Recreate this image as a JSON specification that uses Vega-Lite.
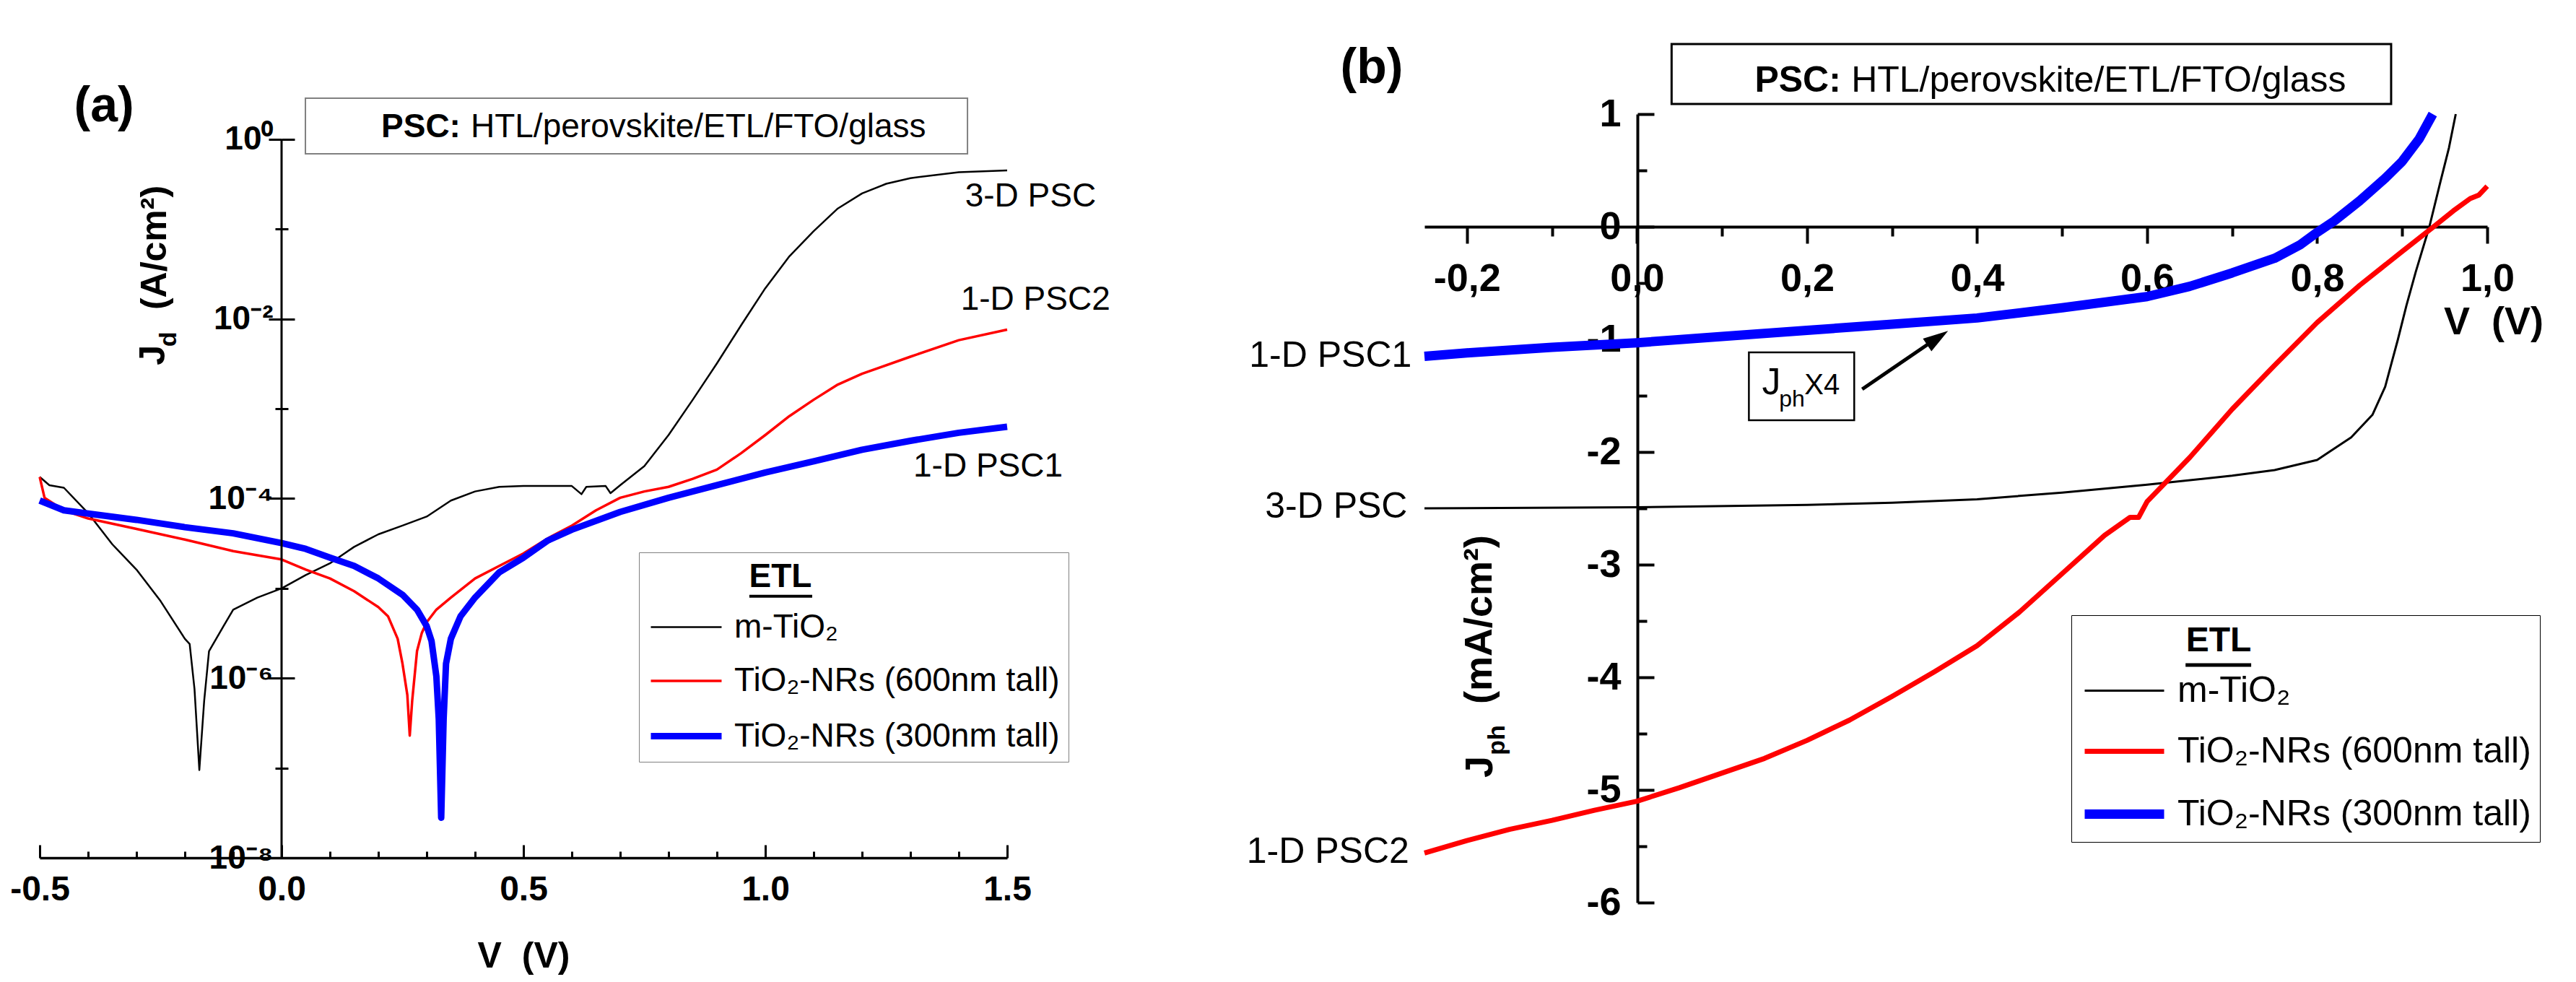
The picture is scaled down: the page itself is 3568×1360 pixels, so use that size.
{
  "$schema": "https://vega.github.io/schema/vega-lite/v6.json",
  "background": "white",
  "padding": {"left": 13, "top": 59, "right": 10, "bottom": 10},
  "bounds": "flush",
  "spacing": 578,
  "config": {
    "view": {"stroke": null},
    "font": "Liberation Sans",
    "text": {"font": "Liberation Sans", "color": "black"},
    "axis": {"labelFont": "Liberation Sans", "titleFont": "Liberation Sans", "labelColor": "black", "titleColor": "black", "grid": false},
    "legend": {"labelFont": "Liberation Sans", "titleFont": "Liberation Sans", "labelColor": "black", "titleColor": "black", "labelLimit": 2000, "titleLimit": 2000}
  },
  "datasets": {
    "jd": [
      {"V": -0.5, "J": 1.74e-4, "ETL": "m-TiO₂"},
      {"V": -0.48, "J": 1.41e-4, "ETL": "m-TiO₂"},
      {"V": -0.45, "J": 1.32e-4, "ETL": "m-TiO₂"},
      {"V": -0.4, "J": 6.9e-5, "ETL": "m-TiO₂"},
      {"V": -0.35, "J": 3.1e-5, "ETL": "m-TiO₂"},
      {"V": -0.3, "J": 1.62e-5, "ETL": "m-TiO₂"},
      {"V": -0.25, "J": 7.2e-6, "ETL": "m-TiO₂"},
      {"V": -0.2, "J": 2.75e-6, "ETL": "m-TiO₂"},
      {"V": -0.19, "J": 2.4e-6, "ETL": "m-TiO₂"},
      {"V": -0.18, "J": 7.6e-7, "ETL": "m-TiO₂"},
      {"V": -0.17, "J": 9.5e-8, "ETL": "m-TiO₂"},
      {"V": -0.16, "J": 5.6e-7, "ETL": "m-TiO₂"},
      {"V": -0.15, "J": 2.0e-6, "ETL": "m-TiO₂"},
      {"V": -0.12, "J": 3.8e-6, "ETL": "m-TiO₂"},
      {"V": -0.1, "J": 5.8e-6, "ETL": "m-TiO₂"},
      {"V": -0.05, "J": 7.9e-6, "ETL": "m-TiO₂"},
      {"V": 0.0, "J": 1.0e-5, "ETL": "m-TiO₂"},
      {"V": 0.05, "J": 1.41e-5, "ETL": "m-TiO₂"},
      {"V": 0.1, "J": 1.9e-5, "ETL": "m-TiO₂"},
      {"V": 0.15, "J": 2.9e-5, "ETL": "m-TiO₂"},
      {"V": 0.2, "J": 4.0e-5, "ETL": "m-TiO₂"},
      {"V": 0.25, "J": 5.0e-5, "ETL": "m-TiO₂"},
      {"V": 0.3, "J": 6.3e-5, "ETL": "m-TiO₂"},
      {"V": 0.35, "J": 9.5e-5, "ETL": "m-TiO₂"},
      {"V": 0.4, "J": 1.2e-4, "ETL": "m-TiO₂"},
      {"V": 0.45, "J": 1.35e-4, "ETL": "m-TiO₂"},
      {"V": 0.5, "J": 1.38e-4, "ETL": "m-TiO₂"},
      {"V": 0.55, "J": 1.38e-4, "ETL": "m-TiO₂"},
      {"V": 0.6, "J": 1.38e-4, "ETL": "m-TiO₂"},
      {"V": 0.62, "J": 1.12e-4, "ETL": "m-TiO₂"},
      {"V": 0.63, "J": 1.35e-4, "ETL": "m-TiO₂"},
      {"V": 0.67, "J": 1.38e-4, "ETL": "m-TiO₂"},
      {"V": 0.68, "J": 1.15e-4, "ETL": "m-TiO₂"},
      {"V": 0.7, "J": 1.41e-4, "ETL": "m-TiO₂"},
      {"V": 0.75, "J": 2.3e-4, "ETL": "m-TiO₂"},
      {"V": 0.8, "J": 5.1e-4, "ETL": "m-TiO₂"},
      {"V": 0.85, "J": 1.26e-3, "ETL": "m-TiO₂"},
      {"V": 0.9, "J": 3.2e-3, "ETL": "m-TiO₂"},
      {"V": 0.95, "J": 8.5e-3, "ETL": "m-TiO₂"},
      {"V": 1.0, "J": 2.2e-2, "ETL": "m-TiO₂"},
      {"V": 1.05, "J": 5.0e-2, "ETL": "m-TiO₂"},
      {"V": 1.1, "J": 9.5e-2, "ETL": "m-TiO₂"},
      {"V": 1.15, "J": 0.17, "ETL": "m-TiO₂"},
      {"V": 1.2, "J": 0.25, "ETL": "m-TiO₂"},
      {"V": 1.25, "J": 0.32, "ETL": "m-TiO₂"},
      {"V": 1.3, "J": 0.37, "ETL": "m-TiO₂"},
      {"V": 1.4, "J": 0.43, "ETL": "m-TiO₂"},
      {"V": 1.5, "J": 0.45, "ETL": "m-TiO₂"},
      {"V": -0.5, "J": 1.74e-4, "ETL": "TiO₂-NRs (600nm tall)"},
      {"V": -0.49, "J": 1.02e-4, "ETL": "TiO₂-NRs (600nm tall)"},
      {"V": -0.45, "J": 7.4e-5, "ETL": "TiO₂-NRs (600nm tall)"},
      {"V": -0.4, "J": 6.0e-5, "ETL": "TiO₂-NRs (600nm tall)"},
      {"V": -0.3, "J": 4.6e-5, "ETL": "TiO₂-NRs (600nm tall)"},
      {"V": -0.2, "J": 3.5e-5, "ETL": "TiO₂-NRs (600nm tall)"},
      {"V": -0.1, "J": 2.6e-5, "ETL": "TiO₂-NRs (600nm tall)"},
      {"V": 0.0, "J": 2.1e-5, "ETL": "TiO₂-NRs (600nm tall)"},
      {"V": 0.05, "J": 1.62e-5, "ETL": "TiO₂-NRs (600nm tall)"},
      {"V": 0.1, "J": 1.29e-5, "ETL": "TiO₂-NRs (600nm tall)"},
      {"V": 0.15, "J": 9.3e-6, "ETL": "TiO₂-NRs (600nm tall)"},
      {"V": 0.2, "J": 6.2e-6, "ETL": "TiO₂-NRs (600nm tall)"},
      {"V": 0.22, "J": 4.9e-6, "ETL": "TiO₂-NRs (600nm tall)"},
      {"V": 0.24, "J": 2.75e-6, "ETL": "TiO₂-NRs (600nm tall)"},
      {"V": 0.25, "J": 1.45e-6, "ETL": "TiO₂-NRs (600nm tall)"},
      {"V": 0.26, "J": 6.5e-7, "ETL": "TiO₂-NRs (600nm tall)"},
      {"V": 0.265, "J": 2.3e-7, "ETL": "TiO₂-NRs (600nm tall)"},
      {"V": 0.27, "J": 5.6e-7, "ETL": "TiO₂-NRs (600nm tall)"},
      {"V": 0.28, "J": 2.0e-6, "ETL": "TiO₂-NRs (600nm tall)"},
      {"V": 0.29, "J": 3.2e-6, "ETL": "TiO₂-NRs (600nm tall)"},
      {"V": 0.3, "J": 4.2e-6, "ETL": "TiO₂-NRs (600nm tall)"},
      {"V": 0.32, "J": 5.8e-6, "ETL": "TiO₂-NRs (600nm tall)"},
      {"V": 0.35, "J": 7.9e-6, "ETL": "TiO₂-NRs (600nm tall)"},
      {"V": 0.4, "J": 1.29e-5, "ETL": "TiO₂-NRs (600nm tall)"},
      {"V": 0.45, "J": 1.78e-5, "ETL": "TiO₂-NRs (600nm tall)"},
      {"V": 0.5, "J": 2.45e-5, "ETL": "TiO₂-NRs (600nm tall)"},
      {"V": 0.55, "J": 3.6e-5, "ETL": "TiO₂-NRs (600nm tall)"},
      {"V": 0.6, "J": 5.0e-5, "ETL": "TiO₂-NRs (600nm tall)"},
      {"V": 0.65, "J": 7.4e-5, "ETL": "TiO₂-NRs (600nm tall)"},
      {"V": 0.7, "J": 1.02e-4, "ETL": "TiO₂-NRs (600nm tall)"},
      {"V": 0.75, "J": 1.2e-4, "ETL": "TiO₂-NRs (600nm tall)"},
      {"V": 0.8, "J": 1.35e-4, "ETL": "TiO₂-NRs (600nm tall)"},
      {"V": 0.85, "J": 1.66e-4, "ETL": "TiO₂-NRs (600nm tall)"},
      {"V": 0.9, "J": 2.1e-4, "ETL": "TiO₂-NRs (600nm tall)"},
      {"V": 0.95, "J": 3.2e-4, "ETL": "TiO₂-NRs (600nm tall)"},
      {"V": 1.0, "J": 5.1e-4, "ETL": "TiO₂-NRs (600nm tall)"},
      {"V": 1.05, "J": 8.3e-4, "ETL": "TiO₂-NRs (600nm tall)"},
      {"V": 1.1, "J": 1.26e-3, "ETL": "TiO₂-NRs (600nm tall)"},
      {"V": 1.15, "J": 1.86e-3, "ETL": "TiO₂-NRs (600nm tall)"},
      {"V": 1.2, "J": 2.45e-3, "ETL": "TiO₂-NRs (600nm tall)"},
      {"V": 1.3, "J": 3.8e-3, "ETL": "TiO₂-NRs (600nm tall)"},
      {"V": 1.4, "J": 5.8e-3, "ETL": "TiO₂-NRs (600nm tall)"},
      {"V": 1.5, "J": 7.6e-3, "ETL": "TiO₂-NRs (600nm tall)"},
      {"V": -0.5, "J": 9.5e-5, "ETL": "TiO₂-NRs (300nm tall)"},
      {"V": -0.45, "J": 7.4e-5, "ETL": "TiO₂-NRs (300nm tall)"},
      {"V": -0.4, "J": 6.8e-5, "ETL": "TiO₂-NRs (300nm tall)"},
      {"V": -0.3, "J": 5.8e-5, "ETL": "TiO₂-NRs (300nm tall)"},
      {"V": -0.2, "J": 4.8e-5, "ETL": "TiO₂-NRs (300nm tall)"},
      {"V": -0.1, "J": 4.1e-5, "ETL": "TiO₂-NRs (300nm tall)"},
      {"V": 0.0, "J": 3.2e-5, "ETL": "TiO₂-NRs (300nm tall)"},
      {"V": 0.05, "J": 2.75e-5, "ETL": "TiO₂-NRs (300nm tall)"},
      {"V": 0.1, "J": 2.2e-5, "ETL": "TiO₂-NRs (300nm tall)"},
      {"V": 0.15, "J": 1.78e-5, "ETL": "TiO₂-NRs (300nm tall)"},
      {"V": 0.2, "J": 1.29e-5, "ETL": "TiO₂-NRs (300nm tall)"},
      {"V": 0.25, "J": 8.5e-6, "ETL": "TiO₂-NRs (300nm tall)"},
      {"V": 0.28, "J": 5.8e-6, "ETL": "TiO₂-NRs (300nm tall)"},
      {"V": 0.3, "J": 3.8e-6, "ETL": "TiO₂-NRs (300nm tall)"},
      {"V": 0.31, "J": 2.6e-6, "ETL": "TiO₂-NRs (300nm tall)"},
      {"V": 0.32, "J": 1.05e-6, "ETL": "TiO₂-NRs (300nm tall)"},
      {"V": 0.325, "J": 3.5e-7, "ETL": "TiO₂-NRs (300nm tall)"},
      {"V": 0.33, "J": 2.8e-8, "ETL": "TiO₂-NRs (300nm tall)"},
      {"V": 0.335, "J": 3.5e-7, "ETL": "TiO₂-NRs (300nm tall)"},
      {"V": 0.34, "J": 1.45e-6, "ETL": "TiO₂-NRs (300nm tall)"},
      {"V": 0.35, "J": 2.75e-6, "ETL": "TiO₂-NRs (300nm tall)"},
      {"V": 0.37, "J": 4.9e-6, "ETL": "TiO₂-NRs (300nm tall)"},
      {"V": 0.4, "J": 7.9e-6, "ETL": "TiO₂-NRs (300nm tall)"},
      {"V": 0.45, "J": 1.51e-5, "ETL": "TiO₂-NRs (300nm tall)"},
      {"V": 0.5, "J": 2.2e-5, "ETL": "TiO₂-NRs (300nm tall)"},
      {"V": 0.55, "J": 3.4e-5, "ETL": "TiO₂-NRs (300nm tall)"},
      {"V": 0.6, "J": 4.5e-5, "ETL": "TiO₂-NRs (300nm tall)"},
      {"V": 0.7, "J": 7.1e-5, "ETL": "TiO₂-NRs (300nm tall)"},
      {"V": 0.8, "J": 1.02e-4, "ETL": "TiO₂-NRs (300nm tall)"},
      {"V": 0.9, "J": 1.41e-4, "ETL": "TiO₂-NRs (300nm tall)"},
      {"V": 1.0, "J": 1.95e-4, "ETL": "TiO₂-NRs (300nm tall)"},
      {"V": 1.1, "J": 2.6e-4, "ETL": "TiO₂-NRs (300nm tall)"},
      {"V": 1.2, "J": 3.5e-4, "ETL": "TiO₂-NRs (300nm tall)"},
      {"V": 1.3, "J": 4.4e-4, "ETL": "TiO₂-NRs (300nm tall)"},
      {"V": 1.4, "J": 5.4e-4, "ETL": "TiO₂-NRs (300nm tall)"},
      {"V": 1.5, "J": 6.3e-4, "ETL": "TiO₂-NRs (300nm tall)"}
    ],
    "jph": [
      {"V": -0.25, "J": -2.5, "ETL": "m-TiO₂"},
      {"V": 0.0, "J": -2.49, "ETL": "m-TiO₂"},
      {"V": 0.2, "J": -2.47, "ETL": "m-TiO₂"},
      {"V": 0.3, "J": -2.45, "ETL": "m-TiO₂"},
      {"V": 0.4, "J": -2.42, "ETL": "m-TiO₂"},
      {"V": 0.5, "J": -2.36, "ETL": "m-TiO₂"},
      {"V": 0.6, "J": -2.29, "ETL": "m-TiO₂"},
      {"V": 0.7, "J": -2.21, "ETL": "m-TiO₂"},
      {"V": 0.75, "J": -2.16, "ETL": "m-TiO₂"},
      {"V": 0.8, "J": -2.07, "ETL": "m-TiO₂"},
      {"V": 0.814, "J": -2.0, "ETL": "m-TiO₂"},
      {"V": 0.84, "J": -1.87, "ETL": "m-TiO₂"},
      {"V": 0.865, "J": -1.67, "ETL": "m-TiO₂"},
      {"V": 0.88, "J": -1.42, "ETL": "m-TiO₂"},
      {"V": 0.895, "J": -1.0, "ETL": "m-TiO₂"},
      {"V": 0.905, "J": -0.7, "ETL": "m-TiO₂"},
      {"V": 0.916, "J": -0.4, "ETL": "m-TiO₂"},
      {"V": 0.932, "J": 0.0, "ETL": "m-TiO₂"},
      {"V": 0.945, "J": 0.4, "ETL": "m-TiO₂"},
      {"V": 0.955, "J": 0.7, "ETL": "m-TiO₂"},
      {"V": 0.963, "J": 1.0, "ETL": "m-TiO₂"},
      {"V": -0.25, "J": -5.56, "ETL": "TiO₂-NRs (600nm tall)"},
      {"V": -0.2, "J": -5.45, "ETL": "TiO₂-NRs (600nm tall)"},
      {"V": -0.15, "J": -5.35, "ETL": "TiO₂-NRs (600nm tall)"},
      {"V": -0.1, "J": -5.27, "ETL": "TiO₂-NRs (600nm tall)"},
      {"V": -0.05, "J": -5.18, "ETL": "TiO₂-NRs (600nm tall)"},
      {"V": 0.0, "J": -5.1, "ETL": "TiO₂-NRs (600nm tall)"},
      {"V": 0.05, "J": -4.98, "ETL": "TiO₂-NRs (600nm tall)"},
      {"V": 0.1, "J": -4.85, "ETL": "TiO₂-NRs (600nm tall)"},
      {"V": 0.15, "J": -4.72, "ETL": "TiO₂-NRs (600nm tall)"},
      {"V": 0.2, "J": -4.56, "ETL": "TiO₂-NRs (600nm tall)"},
      {"V": 0.25, "J": -4.38, "ETL": "TiO₂-NRs (600nm tall)"},
      {"V": 0.3, "J": -4.17, "ETL": "TiO₂-NRs (600nm tall)"},
      {"V": 0.35, "J": -3.95, "ETL": "TiO₂-NRs (600nm tall)"},
      {"V": 0.4, "J": -3.72, "ETL": "TiO₂-NRs (600nm tall)"},
      {"V": 0.45, "J": -3.42, "ETL": "TiO₂-NRs (600nm tall)"},
      {"V": 0.5, "J": -3.08, "ETL": "TiO₂-NRs (600nm tall)"},
      {"V": 0.55, "J": -2.74, "ETL": "TiO₂-NRs (600nm tall)"},
      {"V": 0.58, "J": -2.58, "ETL": "TiO₂-NRs (600nm tall)"},
      {"V": 0.59, "J": -2.58, "ETL": "TiO₂-NRs (600nm tall)"},
      {"V": 0.6, "J": -2.44, "ETL": "TiO₂-NRs (600nm tall)"},
      {"V": 0.65, "J": -2.05, "ETL": "TiO₂-NRs (600nm tall)"},
      {"V": 0.7, "J": -1.62, "ETL": "TiO₂-NRs (600nm tall)"},
      {"V": 0.75, "J": -1.23, "ETL": "TiO₂-NRs (600nm tall)"},
      {"V": 0.8, "J": -0.85, "ETL": "TiO₂-NRs (600nm tall)"},
      {"V": 0.85, "J": -0.52, "ETL": "TiO₂-NRs (600nm tall)"},
      {"V": 0.9, "J": -0.22, "ETL": "TiO₂-NRs (600nm tall)"},
      {"V": 0.937, "J": 0.0, "ETL": "TiO₂-NRs (600nm tall)"},
      {"V": 0.96, "J": 0.14, "ETL": "TiO₂-NRs (600nm tall)"},
      {"V": 0.98, "J": 0.25, "ETL": "TiO₂-NRs (600nm tall)"},
      {"V": 0.99, "J": 0.28, "ETL": "TiO₂-NRs (600nm tall)"},
      {"V": 1.0, "J": 0.36, "ETL": "TiO₂-NRs (600nm tall)"},
      {"V": -0.25, "J": -1.15, "ETL": "TiO₂-NRs (300nm tall)"},
      {"V": -0.2, "J": -1.12, "ETL": "TiO₂-NRs (300nm tall)"},
      {"V": -0.1, "J": -1.07, "ETL": "TiO₂-NRs (300nm tall)"},
      {"V": 0.0, "J": -1.03, "ETL": "TiO₂-NRs (300nm tall)"},
      {"V": 0.1, "J": -0.975, "ETL": "TiO₂-NRs (300nm tall)"},
      {"V": 0.2, "J": -0.92, "ETL": "TiO₂-NRs (300nm tall)"},
      {"V": 0.3, "J": -0.865, "ETL": "TiO₂-NRs (300nm tall)"},
      {"V": 0.4, "J": -0.81, "ETL": "TiO₂-NRs (300nm tall)"},
      {"V": 0.5, "J": -0.72, "ETL": "TiO₂-NRs (300nm tall)"},
      {"V": 0.55, "J": -0.67, "ETL": "TiO₂-NRs (300nm tall)"},
      {"V": 0.6, "J": -0.62, "ETL": "TiO₂-NRs (300nm tall)"},
      {"V": 0.65, "J": -0.53, "ETL": "TiO₂-NRs (300nm tall)"},
      {"V": 0.7, "J": -0.41, "ETL": "TiO₂-NRs (300nm tall)"},
      {"V": 0.75, "J": -0.28, "ETL": "TiO₂-NRs (300nm tall)"},
      {"V": 0.78, "J": -0.16, "ETL": "TiO₂-NRs (300nm tall)"},
      {"V": 0.8, "J": -0.05, "ETL": "TiO₂-NRs (300nm tall)"},
      {"V": 0.82, "J": 0.05, "ETL": "TiO₂-NRs (300nm tall)"},
      {"V": 0.85, "J": 0.23, "ETL": "TiO₂-NRs (300nm tall)"},
      {"V": 0.88, "J": 0.43, "ETL": "TiO₂-NRs (300nm tall)"},
      {"V": 0.9, "J": 0.58, "ETL": "TiO₂-NRs (300nm tall)"},
      {"V": 0.92, "J": 0.78, "ETL": "TiO₂-NRs (300nm tall)"},
      {"V": 0.936, "J": 1.0, "ETL": "TiO₂-NRs (300nm tall)"}
    ]
  },
  "resolve": {"scale": {"color": "independent", "strokeWidth": "independent"}},
  "hconcat": [
    {
      "width": 1340,
      "height": 1030,
      "resolve": {"axis": {"y": "independent"}},
      "layer": [
        {
          "data": {"name": "jd"},
          "mark": {"type": "line", "strokeJoin": "round", "clip": false},
          "encoding": {
            "x": {
              "field": "V", "type": "quantitative",
              "scale": {"domain": [-0.5, 1.5], "nice": false, "zero": false},
              "axis": {
                "orient": "bottom",
                "values": [-0.5, -0.4, -0.3, -0.2, -0.1, 0, 0.1, 0.2, 0.3, 0.4, 0.5, 0.6, 0.7, 0.8, 0.9, 1, 1.1, 1.2, 1.3, 1.4, 1.5],
                "domain": true, "domainColor": "black", "domainWidth": 3.5,
                "tickColor": "black", "tickWidth": 3,
                "tickSize": {"condition": {"test": "abs(datum.value*2 - round(datum.value*2)) < 0.01", "value": -18}, "value": -9},
                "labelExpr": "abs(datum.value*2 - round(datum.value*2)) < 0.01 ? replace(format(datum.value, '.1f'), '−', '-') : ''",
                "labelFontSize": 48, "labelFontWeight": "bold", "labelPadding": 38,
                "labelFlush": false, "labelOverlap": false, "labelBound": false,
                "title": "V\u00a0\u00a0(V)", "titleFontSize": 50, "titleFontWeight": "bold", "titlePadding": 34
              }
            },
            "y": {
              "field": "J", "type": "quantitative",
              "scale": {"type": "log", "domain": [1e-8, 1.911], "nice": false},
              "axis": {
                "orient": "left", "offset": -335,
                "values": [1e-8, 1e-7, 1e-6, 1e-5, 1e-4, 1e-3, 1e-2, 1e-1, 1],
                "domain": false,
                "tickColor": "black", "tickWidth": 3,
                "tickSize": {"condition": {"test": "abs(log(datum.value)/LN10/2 - round(log(datum.value)/LN10/2)) < 0.01", "value": 18}, "value": 9},
                "labelExpr": "round(log(datum.value)/LN10) == 0 ? '10⁰' : round(log(datum.value)/LN10) == -2 ? '10⁻²' : round(log(datum.value)/LN10) == -4 ? '10⁻⁴' : round(log(datum.value)/LN10) == -6 ? '10⁻⁶' : round(log(datum.value)/LN10) == -8 ? '10⁻⁸' : ''",
                "labelFontSize": 46, "labelFontWeight": "bold", "labelPadding": -6,
                "labelOverlap": false, "labelBound": false, "labelFlush": false,
                "title": null
              }
            },
            "color": {
              "field": "ETL", "type": "nominal",
              "scale": {"domain": ["m-TiO₂", "TiO₂-NRs (600nm tall)", "TiO₂-NRs (300nm tall)"], "range": ["#000000", "#ff0000", "#0000ff"]},
              "legend": {
                "orient": "none", "legendX": 830, "legendY": 607,
                "title": "\u200b\u00a0\u00a0\u00a0\u00a0\u00a0\u00a0\u00a0\u00a0\u00a0\u00a0\u00a0ETL", "titleFontSize": 46, "titleFontWeight": "bold", "titlePadding": -5, "titleLimit": 2000,
                "labelFontSize": 46, "labelOffset": 13, "labelLimit": 2000,
                "symbolType": "stroke", "symbolSize": 9600,
                "strokeColor": "#808080",
                "padding": 12, "rowPadding": 0
              }
            },
            "strokeWidth": {
              "field": "ETL", "type": "nominal",
              "scale": {"type": "ordinal", "domain": ["m-TiO₂", "TiO₂-NRs (600nm tall)", "TiO₂-NRs (300nm tall)"], "range": [2.5, 3.5, 9]},
              "legend": {
                "orient": "none", "legendX": 830, "legendY": 607,
                "title": "\u200b\u00a0\u00a0\u00a0\u00a0\u00a0\u00a0\u00a0\u00a0\u00a0\u00a0\u00a0ETL", "titleFontSize": 46, "titleFontWeight": "bold", "titlePadding": -5, "titleLimit": 2000,
                "labelFontSize": 46, "labelOffset": 13, "labelLimit": 2000,
                "symbolType": "stroke", "symbolSize": 9600,
                "strokeColor": "#808080",
                "padding": 12, "rowPadding": 0
              }
            }
          }
        },
        {
          "data": {"values": [{"V": 0, "lo": 1e-8, "hi": 1}]},
          "mark": {"type": "rule", "color": "black", "strokeWidth": 3},
          "encoding": {
            "x": {"field": "V", "type": "quantitative", "scale": {"domain": [-0.5, 1.5], "nice": false, "zero": false}},
            "y": {
              "field": "lo", "type": "quantitative",
              "scale": {"type": "log", "domain": [1e-8, 1.911], "nice": false},
              "axis": {
                "orient": "right", "offset": -1005,
                "values": [1e-8, 1e-7, 1e-6, 1e-5, 1e-4, 1e-3, 1e-2, 1e-1, 1],
                "domain": false, "labels": false, "title": null,
                "tickColor": "black", "tickWidth": 3,
                "tickSize": {"condition": {"test": "abs(log(datum.value)/LN10/2 - round(log(datum.value)/LN10/2)) < 0.01", "value": 18}, "value": 9}
              }
            },
            "y2": {"field": "hi"}
          }
        },
        {
          "data": {"values": [{"V": 0.0493, "V2": 1.418, "J": 2.87, "J2": 0.69}]},
          "mark": {"type": "rect", "filled": false, "stroke": "#808080", "strokeWidth": 2},
          "encoding": {
            "x": {"field": "V", "type": "quantitative", "scale": {"domain": [-0.5, 1.5], "nice": false, "zero": false}},
            "x2": {"field": "V2"},
            "y": {"field": "J", "type": "quantitative", "scale": {"type": "log", "domain": [1e-8, 1.911], "nice": false}, "axis": null},
            "y2": {"field": "J2"}
          }
        },
        {
          "data": {"values": [{"V": 0.967, "V2": 1.097, "J": 8.16e-6}]},
          "mark": {"type": "rule", "color": "black", "strokeWidth": 4},
          "encoding": {
            "x": {"field": "V", "type": "quantitative", "scale": {"domain": [-0.5, 1.5], "nice": false, "zero": false}},
            "x2": {"field": "V2"},
            "y": {"field": "J", "type": "quantitative", "scale": {"type": "log", "domain": [1e-8, 1.911], "nice": false}, "axis": null}
          }
        },
        {
          "data": {"values": [{"V": -0.367, "J": 2.3, "t": "(a)"}]},
          "mark": {"type": "text", "fontSize": 68, "fontWeight": "bold", "align": "center", "baseline": "middle"},
          "encoding": {
            "x": {"field": "V", "type": "quantitative", "scale": {"domain": [-0.5, 1.5], "nice": false, "zero": false}},
            "y": {"field": "J", "type": "quantitative", "scale": {"type": "log", "domain": [1e-8, 1.911], "nice": false}, "axis": null},
            "text": {"field": "t"}
          }
        },
        {
          "data": {"values": [{"V": 1.413, "J": 0.232, "t": "3-D PSC"}, {"V": 1.404, "J": 0.0164, "t": "1-D PSC2"}, {"V": 1.306, "J": 2.28e-4, "t": "1-D PSC1"}]},
          "mark": {"type": "text", "fontSize": 46, "align": "left", "baseline": "middle"},
          "encoding": {
            "x": {"field": "V", "type": "quantitative", "scale": {"domain": [-0.5, 1.5], "nice": false, "zero": false}},
            "y": {"field": "J", "type": "quantitative", "scale": {"type": "log", "domain": [1e-8, 1.911], "nice": false}, "axis": null},
            "text": {"field": "t"}
          }
        },
        {
          "data": {"values": [{"V": 0.206, "J": 1.37, "t": "PSC:"}]},
          "mark": {"type": "text", "fontSize": 46, "fontWeight": "bold", "align": "left", "baseline": "middle"},
          "encoding": {
            "x": {"field": "V", "type": "quantitative", "scale": {"domain": [-0.5, 1.5], "nice": false, "zero": false}},
            "y": {"field": "J", "type": "quantitative", "scale": {"type": "log", "domain": [1e-8, 1.911], "nice": false}, "axis": null},
            "text": {"field": "t"}
          }
        },
        {
          "data": {"values": [{"V": 0.391, "J": 1.37, "t": "HTL/perovskite/ETL/FTO/glass"}]},
          "mark": {"type": "text", "fontSize": 46, "align": "left", "baseline": "middle"},
          "encoding": {
            "x": {"field": "V", "type": "quantitative", "scale": {"domain": [-0.5, 1.5], "nice": false, "zero": false}},
            "y": {"field": "J", "type": "quantitative", "scale": {"type": "log", "domain": [1e-8, 1.911], "nice": false}, "axis": null},
            "text": {"field": "t"}
          }
        },
        {
          "data": {"values": [{"V": -0.264, "J": 3.95e-3, "t": "J"}, {"V": -0.261, "J": 0.0622, "t": "(A/cm²)"}]},
          "mark": {"type": "text", "fontSize": 50, "fontWeight": "bold", "align": "center", "baseline": "middle", "angle": 270},
          "encoding": {
            "x": {"field": "V", "type": "quantitative", "scale": {"domain": [-0.5, 1.5], "nice": false, "zero": false}},
            "y": {"field": "J", "type": "quantitative", "scale": {"type": "log", "domain": [1e-8, 1.911], "nice": false}, "axis": null},
            "text": {"field": "t"}
          }
        },
        {
          "data": {"values": [{"V": -0.233, "J": 5.93e-3, "t": "d"}]},
          "mark": {"type": "text", "fontSize": 34, "fontWeight": "bold", "align": "center", "baseline": "middle", "angle": 270},
          "encoding": {
            "x": {"field": "V", "type": "quantitative", "scale": {"domain": [-0.5, 1.5], "nice": false, "zero": false}},
            "y": {"field": "J", "type": "quantitative", "scale": {"type": "log", "domain": [1e-8, 1.911], "nice": false}, "axis": null},
            "text": {"field": "t"}
          }
        }
      ]
    },
    {
      "width": 1472,
      "height": 1092,
      "layer": [
        {
          "data": {"name": "jph"},
          "mark": {"type": "line", "strokeJoin": "round", "clip": false},
          "encoding": {
            "x": {
              "field": "V", "type": "quantitative",
              "scale": {"domain": [-0.25, 1.0], "nice": false, "zero": false},
              "axis": {
                "orient": "bottom", "offset": -936,
                "values": [-0.2, -0.1, 0, 0.1, 0.2, 0.3, 0.4, 0.5, 0.6, 0.7, 0.8, 0.9, 1.0],
                "domainColor": "black", "domainWidth": 4,
                "tickColor": "black", "tickWidth": 4,
                "tickSize": {"condition": {"test": "abs(datum.value*5 - round(datum.value*5)) < 0.01", "value": 23}, "value": 13},
                "labelExpr": "abs(datum.value*5 - round(datum.value*5)) < 0.01 ? replace(replace(format(datum.value, '.1f'), '.', ','), '−', '-') : ''",
                "labelFontSize": 54, "labelFontWeight": "bold", "labelPadding": 22,
                "labelFlush": false, "labelOverlap": false, "labelBound": false,
                "title": null
              }
            },
            "y": {
              "field": "J", "type": "quantitative",
              "scale": {"domain": [-6, 1], "nice": false, "zero": false},
              "axis": {
                "orient": "left", "offset": -295,
                "values": [-6, -5.5, -5, -4.5, -4, -3.5, -3, -2.5, -2, -1.5, -1, -0.5, 0, 0.5, 1],
                "domainColor": "black", "domainWidth": 4,
                "tickColor": "black", "tickWidth": 4,
                "tickSize": {"condition": {"test": "datum.value == round(datum.value)", "value": -23}, "value": -13},
                "labelExpr": "datum.value == round(datum.value) ? replace(format(datum.value, 'd'), '−', '-') : ''",
                "labelFontSize": 54, "labelFontWeight": "bold", "labelPadding": 46,
                "labelFlush": false, "labelOverlap": false, "labelBound": false,
                "title": null
              }
            },
            "color": {
              "field": "ETL", "type": "nominal",
              "scale": {"domain": ["m-TiO₂", "TiO₂-NRs (600nm tall)", "TiO₂-NRs (300nm tall)"], "range": ["#000000", "#ff0000", "#0000ff"]},
              "legend": {
                "orient": "none", "legendX": 896, "legendY": 694,
                "title": "\u200b\u00a0\u00a0\u00a0\u00a0\u00a0\u00a0\u00a0\u00a0\u00a0\u00a0\u00a0ETL", "titleFontSize": 48, "titleFontWeight": "bold", "titlePadding": -12, "titleLimit": 2000,
                "labelFontSize": 50, "labelOffset": 12, "labelLimit": 2000,
                "symbolType": "stroke", "symbolSize": 12100,
                "strokeColor": "black",
                "padding": 12, "rowPadding": 0
              }
            },
            "strokeWidth": {
              "field": "ETL", "type": "nominal",
              "scale": {"type": "ordinal", "domain": ["m-TiO₂", "TiO₂-NRs (600nm tall)", "TiO₂-NRs (300nm tall)"], "range": [3, 7, 13]},
              "legend": {
                "orient": "none", "legendX": 896, "legendY": 694,
                "title": "\u200b\u00a0\u00a0\u00a0\u00a0\u00a0\u00a0\u00a0\u00a0\u00a0\u00a0\u00a0ETL", "titleFontSize": 48, "titleFontWeight": "bold", "titlePadding": -12, "titleLimit": 2000,
                "labelFontSize": 50, "labelOffset": 12, "labelLimit": 2000,
                "symbolType": "stroke", "symbolSize": 12100,
                "strokeColor": "black",
                "padding": 12, "rowPadding": 0
              }
            }
          }
        },
        {
          "data": {"values": [{"V": 0.0407, "V2": 0.887, "J": 1.622, "J2": 1.09}]},
          "mark": {"type": "rect", "filled": false, "stroke": "black", "strokeWidth": 3},
          "encoding": {
            "x": {"field": "V", "type": "quantitative", "scale": {"domain": [-0.25, 1.0], "nice": false, "zero": false}},
            "x2": {"field": "V2"},
            "y": {"field": "J", "type": "quantitative", "scale": {"domain": [-6, 1], "nice": false, "zero": false}},
            "y2": {"field": "J2"}
          }
        },
        {
          "data": {"values": [{"V": 0.1316, "V2": 0.2555, "J": -1.115, "J2": -1.718}]},
          "mark": {"type": "rect", "filled": false, "stroke": "black", "strokeWidth": 2.5},
          "encoding": {
            "x": {"field": "V", "type": "quantitative", "scale": {"domain": [-0.25, 1.0], "nice": false, "zero": false}},
            "x2": {"field": "V2"},
            "y": {"field": "J", "type": "quantitative", "scale": {"domain": [-6, 1], "nice": false, "zero": false}},
            "y2": {"field": "J2"}
          }
        },
        {
          "data": {"values": [{"V": 0.2649, "J": -1.442, "V2": 0.3531, "J2": -0.987}]},
          "mark": {"type": "rule", "color": "black", "strokeWidth": 5},
          "encoding": {
            "x": {"field": "V", "type": "quantitative", "scale": {"domain": [-0.25, 1.0], "nice": false, "zero": false}},
            "x2": {"field": "V2"},
            "y": {"field": "J", "type": "quantitative", "scale": {"domain": [-6, 1], "nice": false, "zero": false}},
            "y2": {"field": "J2"}
          }
        },
        {
          "data": {"values": [{"V": 0.3536, "J": -0.987}]},
          "mark": {"type": "point", "shape": "M0,-1L0.6,1L-0.6,1Z", "size": 1225, "angle": 55.8, "filled": true, "color": "black", "opacity": 1},
          "encoding": {
            "x": {"field": "V", "type": "quantitative", "scale": {"domain": [-0.25, 1.0], "nice": false, "zero": false}},
            "y": {"field": "J", "type": "quantitative", "scale": {"domain": [-6, 1], "nice": false, "zero": false}}
          }
        },
        {
          "data": {"values": [{"V": 0.6452, "V2": 0.7224, "J": -3.891}]},
          "mark": {"type": "rule", "color": "black", "strokeWidth": 5},
          "encoding": {
            "x": {"field": "V", "type": "quantitative", "scale": {"domain": [-0.25, 1.0], "nice": false, "zero": false}},
            "x2": {"field": "V2"},
            "y": {"field": "J", "type": "quantitative", "scale": {"domain": [-6, 1], "nice": false, "zero": false}}
          }
        },
        {
          "data": {"values": [{"V": -0.312, "J": 1.404, "t": "(b)"}]},
          "mark": {"type": "text", "fontSize": 68, "fontWeight": "bold", "align": "center", "baseline": "middle"},
          "encoding": {
            "x": {"field": "V", "type": "quantitative", "scale": {"domain": [-0.25, 1.0], "nice": false, "zero": false}},
            "y": {"field": "J", "type": "quantitative", "scale": {"domain": [-6, 1], "nice": false, "zero": false}},
            "text": {"field": "t"}
          }
        },
        {
          "data": {"values": [{"V": -0.265, "J": -1.147, "t": "1-D PSC1"}, {"V": -0.27, "J": -2.487, "t": "3-D PSC"}, {"V": -0.268, "J": -5.55, "t": "1-D PSC2"}]},
          "mark": {"type": "text", "fontSize": 50, "align": "right", "baseline": "middle"},
          "encoding": {
            "x": {"field": "V", "type": "quantitative", "scale": {"domain": [-0.25, 1.0], "nice": false, "zero": false}},
            "y": {"field": "J", "type": "quantitative", "scale": {"domain": [-6, 1], "nice": false, "zero": false}},
            "text": {"field": "t"}
          }
        },
        {
          "data": {"values": [{"V": 0.1384, "J": 1.295, "t": "PSC:"}]},
          "mark": {"type": "text", "fontSize": 50, "fontWeight": "bold", "align": "left", "baseline": "middle"},
          "encoding": {
            "x": {"field": "V", "type": "quantitative", "scale": {"domain": [-0.25, 1.0], "nice": false, "zero": false}},
            "y": {"field": "J", "type": "quantitative", "scale": {"domain": [-6, 1], "nice": false, "zero": false}},
            "text": {"field": "t"}
          }
        },
        {
          "data": {"values": [{"V": 0.252, "J": 1.295, "t": "HTL/perovskite/ETL/FTO/glass"}]},
          "mark": {"type": "text", "fontSize": 50, "align": "left", "baseline": "middle"},
          "encoding": {
            "x": {"field": "V", "type": "quantitative", "scale": {"domain": [-0.25, 1.0], "nice": false, "zero": false}},
            "y": {"field": "J", "type": "quantitative", "scale": {"domain": [-6, 1], "nice": false, "zero": false}},
            "text": {"field": "t"}
          }
        },
        {
          "data": {"values": [{"V": -0.1834, "J": -4.795, "t": "J"}, {"V": -0.185, "J": -3.487, "t": "(mA/cm²)"}]},
          "mark": {"type": "text", "fontSize": 54, "fontWeight": "bold", "align": "center", "baseline": "middle", "angle": 270},
          "encoding": {
            "x": {"field": "V", "type": "quantitative", "scale": {"domain": [-0.25, 1.0], "nice": false, "zero": false}},
            "y": {"field": "J", "type": "quantitative", "scale": {"domain": [-6, 1], "nice": false, "zero": false}},
            "text": {"field": "t"}
          }
        },
        {
          "data": {"values": [{"V": -0.164, "J": -4.558, "t": "ph"}]},
          "mark": {"type": "text", "fontSize": 34, "fontWeight": "bold", "align": "center", "baseline": "middle", "angle": 270},
          "encoding": {
            "x": {"field": "V", "type": "quantitative", "scale": {"domain": [-0.25, 1.0], "nice": false, "zero": false}},
            "y": {"field": "J", "type": "quantitative", "scale": {"domain": [-6, 1], "nice": false, "zero": false}},
            "text": {"field": "t"}
          }
        },
        {
          "data": {"values": [{"V": 1.0076, "J": -0.853, "t": "V\u00a0\u00a0(V)"}]},
          "mark": {"type": "text", "fontSize": 54, "fontWeight": "bold", "align": "center", "baseline": "middle"},
          "encoding": {
            "x": {"field": "V", "type": "quantitative", "scale": {"domain": [-0.25, 1.0], "nice": false, "zero": false}},
            "y": {"field": "J", "type": "quantitative", "scale": {"domain": [-6, 1], "nice": false, "zero": false}},
            "text": {"field": "t"}
          }
        },
        {
          "data": {"values": [{"V": 0.1469, "J": -1.487, "t": "J"}]},
          "mark": {"type": "text", "fontSize": 52, "align": "left", "baseline": "alphabetic"},
          "encoding": {
            "x": {"field": "V", "type": "quantitative", "scale": {"domain": [-0.25, 1.0], "nice": false, "zero": false}},
            "y": {"field": "J", "type": "quantitative", "scale": {"domain": [-6, 1], "nice": false, "zero": false}},
            "text": {"field": "t"}
          }
        },
        {
          "data": {"values": [{"V": 0.1672, "J": -1.596, "t": "ph"}]},
          "mark": {"type": "text", "fontSize": 32, "align": "left", "baseline": "alphabetic"},
          "encoding": {
            "x": {"field": "V", "type": "quantitative", "scale": {"domain": [-0.25, 1.0], "nice": false, "zero": false}},
            "y": {"field": "J", "type": "quantitative", "scale": {"domain": [-6, 1], "nice": false, "zero": false}},
            "text": {"field": "t"}
          }
        },
        {
          "data": {"values": [{"V": 0.1969, "J": -1.487, "t": "X4"}]},
          "mark": {"type": "text", "fontSize": 40, "align": "left", "baseline": "alphabetic"},
          "encoding": {
            "x": {"field": "V", "type": "quantitative", "scale": {"domain": [-0.25, 1.0], "nice": false, "zero": false}},
            "y": {"field": "J", "type": "quantitative", "scale": {"domain": [-6, 1], "nice": false, "zero": false}},
            "text": {"field": "t"}
          }
        }
      ]
    }
  ]
}
